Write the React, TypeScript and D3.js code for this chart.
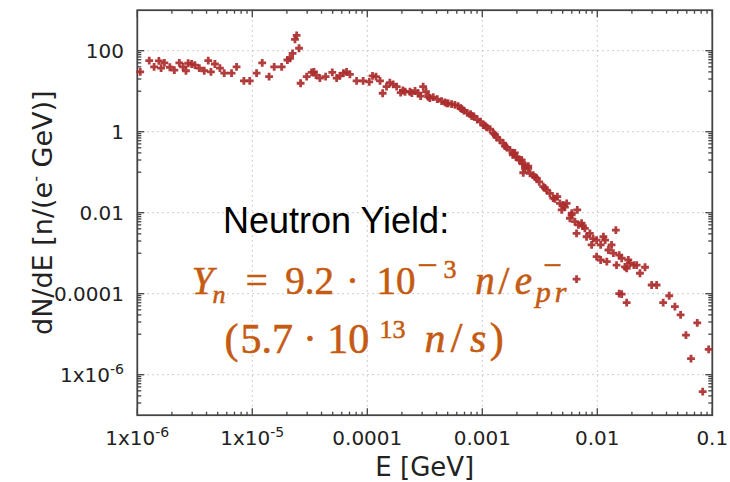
import React from 'react';
import * as d3 from 'd3';

// Neutron spectrum: E [GeV] vs dN/dE [n/(e- GeV)]
const energy = [
  1.06e-6, 1.27e-6, 1.4e-6, 1.54e-6, 1.61e-6, 1.72e-6, 1.92e-6, 2.1e-6, 2.32e-6, 2.5e-6,
  2.65e-6, 2.77e-6, 2.97e-6, 3.17e-6, 3.46e-6, 3.82e-6, 4.14e-6, 4.37e-6, 4.73e-6, 5.23e-6,
  5.7e-6, 6.6e-6, 7.3e-6, 8.45e-6, 9.5e-6, 1.09e-5, 1.22e-5, 1.4e-5, 1.55e-5, 1.8e-5,
  2.02e-5, 2.13e-5, 2.24e-5, 2.35e-5, 2.43e-5, 2.55e-5, 2.63e-5, 2.97e-5, 3.28e-5, 3.44e-5,
  3.58e-5, 3.87e-5, 4.34e-5, 4.96e-5, 5.41e-5, 5.78e-5, 6.2e-5, 6.6e-5, 7.06e-5, 8.07e-5,
  9.2e-5, 1.04e-4, 1.11e-4, 1.19e-4, 1.29e-4, 1.36e-4, 1.47e-4, 1.57e-4, 1.68e-4, 1.8e-4,
  1.95e-4, 2.04e-4, 2.13e-4, 2.35e-4, 2.44e-4, 2.6e-4, 2.77e-4, 2.91e-4, 3.06e-4, 3.24e-4,
  3.39e-4, 3.5e-4, 3.74e-4, 4.06e-4, 4.43e-4, 4.73e-4, 4.92e-4, 5.05e-4, 5.41e-4, 5.78e-4,
  6.17e-4, 6.48e-4, 6.65e-4, 6.92e-4, 7.4e-4, 7.9e-4, 8.1e-4, 8.45e-4, 9.04e-4, 9.66e-4,
  1.02e-3, 1.06e-3, 1.09e-3, 1.17e-3, 1.25e-3, 1.29e-3, 1.33e-3, 1.42e-3, 1.52e-3, 1.57e-3,
  1.63e-3, 1.74e-3, 1.84e-3, 1.86e-3, 1.92e-3, 1.96e-3, 1.99e-3, 2.1e-3, 2.2e-3, 2.24e-3,
  2.27e-3, 2.35e-3, 2.35e-3, 2.51e-3, 2.51e-3, 2.6e-3, 2.77e-3, 2.87e-3, 2.97e-3, 3.13e-3,
  3.39e-3, 3.5e-3, 3.63e-3, 3.87e-3, 4.14e-3, 4.28e-3, 4.49e-3, 4.73e-3, 4.9e-3, 5.05e-3,
  5.23e-3, 5.41e-3, 5.78e-3, 5.98e-3, 6.01e-3, 6.39e-3, 6.6e-3, 6.6e-3, 6.7e-3, 6.84e-3,
  7.3e-3, 7.49e-3, 7.8e-3, 8.07e-3, 8.62e-3, 8.92e-3, 9.2e-3, 9.86e-3, 9.86e-3, 1.07e-2,
  1.07e-2, 1.13e-2, 1.17e-2, 1.21e-2, 1.25e-2, 1.33e-2, 1.38e-2, 1.45e-2, 1.47e-2, 1.55e-2,
  1.55e-2, 1.63e-2, 1.63e-2, 1.74e-2, 1.8e-2, 1.8e-2, 1.86e-2, 1.92e-2, 2.08e-2, 2.2e-2,
  2.35e-2, 2.6e-2, 2.97e-2, 3.28e-2, 3.74e-2, 4.22e-2, 4.73e-2, 5.3e-2, 5.9e-2, 6.53e-2,
  7.4e-2, 8.25e-2, 9.3e-2,
];

const dNdE = [
  30, 57, 40, 56, 37, 50, 39, 33, 50, 40,
  32, 49, 47, 44, 37, 32, 57, 30, 47, 37,
  28, 28, 40, 18, 18, 28, 50, 23, 40, 40,
  59, 65, 86, 190, 240, 115, 15.7, 23, 29, 30,
  25, 21, 23, 29, 21, 24, 28, 30, 26, 18,
  18, 17, 24, 23, 18, 8.9, 12.9, 16.2, 14.8, 12.9,
  9.2, 10.4, 9.7, 9.7, 9.0, 10.1, 8.9, 7.6, 12.9, 9.7,
  7.3, 6.8, 7.1, 6.4, 5.7, 5.3, 5.0, 5.0, 4.8, 4.6,
  4.3, 3.8, 3.6, 3.3, 2.9, 2.7, 2.44, 2.4, 2.0, 1.77,
  1.46, 1.42, 1.28, 1.15, 0.91, 0.85, 0.73, 0.62, 0.52, 0.44,
  0.41, 0.35, 0.27, 0.29, 0.30, 0.24, 0.24, 0.20, 0.20, 0.16,
  0.097, 0.125, 0.15, 0.142, 0.125, 0.094, 0.085, 0.076, 0.071, 0.058,
  0.044, 0.041, 0.036, 0.030, 0.023, 0.022, 0.025, 0.017, 0.0117, 0.0155,
  0.0138, 0.017, 0.0073, 0.0088, 0.0098, 0.006, 0.0031, 2.3e-4, 0.0117, 0.005,
  0.0055, 0.0047, 0.0041, 0.00255, 0.0031, 0.0016, 0.0023, 0.0021, 8.2e-4, 0.0016,
  6.8e-4, 0.00255, 0.0021, 6.2e-4, 1.2e-3, 0.0016, 1.0e-3, 0.0037, 5.1e-4, 9.0e-4,
  1.0e-4, 7.5e-4, 9.8e-5, 4.6e-4, 4.2e-4, 6.0e-5, 6.8e-4, 5.6e-4, 5.1e-4, 5.1e-4,
  3.2e-4, 4.5e-4, 1.64e-4, 1.64e-4, 6.0e-5, 8.9e-5, 4.8e-5, 3.0e-5, 9.5e-6, 2.5e-6,
  1.9e-5, 3.8e-7, 4.2e-6,
];

const xTickValues = [1e-6, 1e-5, 1e-4, 1e-3, 1e-2, 1e-1];
const xTickBase = ['1x10', '1x10', '0.0001', '0.001', '0.01', '0.1'];
const xTickExp = ['-6', '-5', '', '', '', ''];

const yTickValues = [1e-6, 1e-4, 1e-2, 1, 100];
const yTickBase = ['1x10', '0.0001', '0.01', '1', '100'];
const yTickExp = ['-6', '', '', '', ''];

const xTitle = 'E [GeV]';
const yTitleMain = 'dN/dE [n/(e';
const yTitleSup = '-';
const yTitleEnd = ' GeV)]';
const noteTitle = 'Neutron Yield:';

const W = 730;
const H = 482;
const L = 137.3, R = 712.3, T = 10.2, B = 415.2;
const AXIS = '#444';
const RED = '#ab2d2d';
const ORANGE = '#C55A11';

// formula glyph groups: [text, centerX, baselineY, fontSize, italic]
type Piece = [string, number, number, number, boolean];
const line1: Piece[] = [
  ['Y', 202.5, 293.5, 39, true],
  ['n', 219, 303, 26, true],
  ['=', 256.7, 293.5, 39, false],
  ['9.2', 309.7, 293.5, 39, false],
  ['·', 352.5, 293.5, 39, false],
  ['10', 396, 293.5, 39, false],
  ['−', 427.5, 277, 36, false],
  ['3', 450, 278.3, 26, false],
  ['n', 485, 293.5, 39, true],
  ['/', 504, 293.5, 39, false],
  ['e', 523.3, 293.5, 39, true],
  ['−', 552.5, 276, 33, false],
  ['pr', 553, 302, 30, true],
];
const line2: Piece[] = [
  ['(', 231.5, 353, 42, false],
  ['5.7', 266.7, 353, 42, false],
  ['·', 310, 353, 42, false],
  ['10', 348.3, 353, 42, false],
  ['13', 392.5, 338.3, 26, false],
  ['n', 435, 352, 42, true],
  ['/', 456.7, 352, 42, false],
  ['s', 478.3, 352, 42, true],
  [')', 496.7, 352, 42, false],
];

export default function App() {
  const x = d3.scaleLog().domain([1e-6, 0.1]).range([L, R]);
  const y = d3.scaleLog().domain([1e-7, 1e3]).range([B, T]);

  const xMinor: number[] = [];
  for (let k = -6; k <= -2; k++) for (let m = 2; m <= 9; m++) xMinor.push(m * Math.pow(10, k));
  const yMinor: number[] = [];
  for (const k of [-7, -5, -3, -1, 1]) for (let m = 1; m <= 9; m++) {
    const v = m * Math.pow(10, k);
    if (v > 1e-7 && v < 1e3) yMinor.push(v);
  }

  const data = energy.map((e, i) => ({ e, v: dNdE[i] }));
  const sans = 'DejaVu Sans';

  const renderLine = (pieces: Piece[], key: string) => (
    <text key={key} textAnchor="middle" fontFamily="Liberation Serif, serif" fill={ORANGE}
      stroke={ORANGE} strokeWidth={0.55}>
      {pieces.map((p, i) => (
        <tspan key={i} x={p[1]} y={p[2]} fontSize={p[3]} fontStyle={p[4] ? 'italic' : 'normal'}
          letterSpacing={p[0] === 'pr' ? 4 : 0}>{p[0]}</tspan>
      ))}
    </text>
  );

  return (
    <svg width={W} height={H} style={{ position: 'absolute', left: 0, top: 0, background: '#fff' }}>
      <rect x={0} y={0} width={W} height={H} fill="#fff" />
      {/* grid */}
      <g stroke="#bdbdbd" strokeWidth={1} strokeDasharray="1.5,3.5">
        {xTickValues.slice(1, -1).map(t => (
          <line key={'gx' + t} x1={x(t)} x2={x(t)} y1={T} y2={B} />
        ))}
        {yTickValues.map(t => (
          <line key={'gy' + t} x1={L} x2={R} y1={y(t)} y2={y(t)} />
        ))}
      </g>

      {/* ticks */}
      <g stroke={AXIS} strokeWidth={1.3}>
        {xTickValues.map(t => (
          <g key={'xt' + t}>
            <line x1={x(t)} x2={x(t)} y1={B} y2={B - 7} />
            <line x1={x(t)} x2={x(t)} y1={T} y2={T + 7} />
          </g>
        ))}
        {xMinor.map(t => (
          <g key={'xm' + t}>
            <line x1={x(t)} x2={x(t)} y1={B} y2={B - 3.5} />
            <line x1={x(t)} x2={x(t)} y1={T} y2={T + 3.5} />
          </g>
        ))}
        {yTickValues.map(t => (
          <g key={'yt' + t}>
            <line x1={L} x2={L + 7} y1={y(t)} y2={y(t)} />
            <line x1={R} x2={R - 7} y1={y(t)} y2={y(t)} />
          </g>
        ))}
        {yMinor.map(t => (
          <g key={'ym' + t}>
            <line x1={L} x2={L + 4} y1={y(t)} y2={y(t)} />
            <line x1={R} x2={R - 4} y1={y(t)} y2={y(t)} />
          </g>
        ))}
      </g>

      {/* frame */}
      <rect x={L} y={T} width={R - L} height={B - T} fill="none" stroke={AXIS} strokeWidth={1.8} />

      {/* data */}
      <g stroke={RED} strokeWidth={2.8} strokeOpacity={0.92}>
        {data.map((d, i) => (
          <path key={i} transform={`translate(${x(d.e)},${y(d.v)})`} d="M-3.9,0H3.9M0,-3.9V3.9" />
        ))}
      </g>

      {/* tick labels */}
      <g fontFamily={sans} fontSize={20} fill="#222">
        {xTickValues.map((t, i) => (
          <text key={'xl' + t} x={x(t)} y={445} textAnchor="middle">
            {xTickBase[i]}
            {xTickExp[i] && <tspan dy={-8} fontSize={14}>{xTickExp[i]}</tspan>}
          </text>
        ))}
        {yTickValues.map((t, i) => (
          <text key={'yl' + t} x={124} y={y(t) + 7.3} textAnchor="end">
            {yTickBase[i]}
            {yTickExp[i] && <tspan dy={-8} fontSize={14}>{yTickExp[i]}</tspan>}
          </text>
        ))}
      </g>

      {/* axis titles */}
      <text x={(L + R) / 2} y={476} textAnchor="middle" fontFamily={sans} fontSize={26} fill="#222">{xTitle}</text>
      <text transform={`translate(52,${(T + B) / 2}) rotate(-90)`} textAnchor="middle" fontFamily={sans} fontSize={27} fill="#222">
        {yTitleMain}
        <tspan dy={-11} fontSize={16}>{yTitleSup}</tspan>
        <tspan dy={11} fontSize={27}>{yTitleEnd}</tspan>
      </text>

      {/* annotation */}
      <text x={223} y={233} fontFamily="Liberation Sans, Arial, sans-serif" fontSize={36} fill="#000">{noteTitle}</text>
      {renderLine(line1, 'l1')}
      {renderLine(line2, 'l2')}
    </svg>
  );
}
